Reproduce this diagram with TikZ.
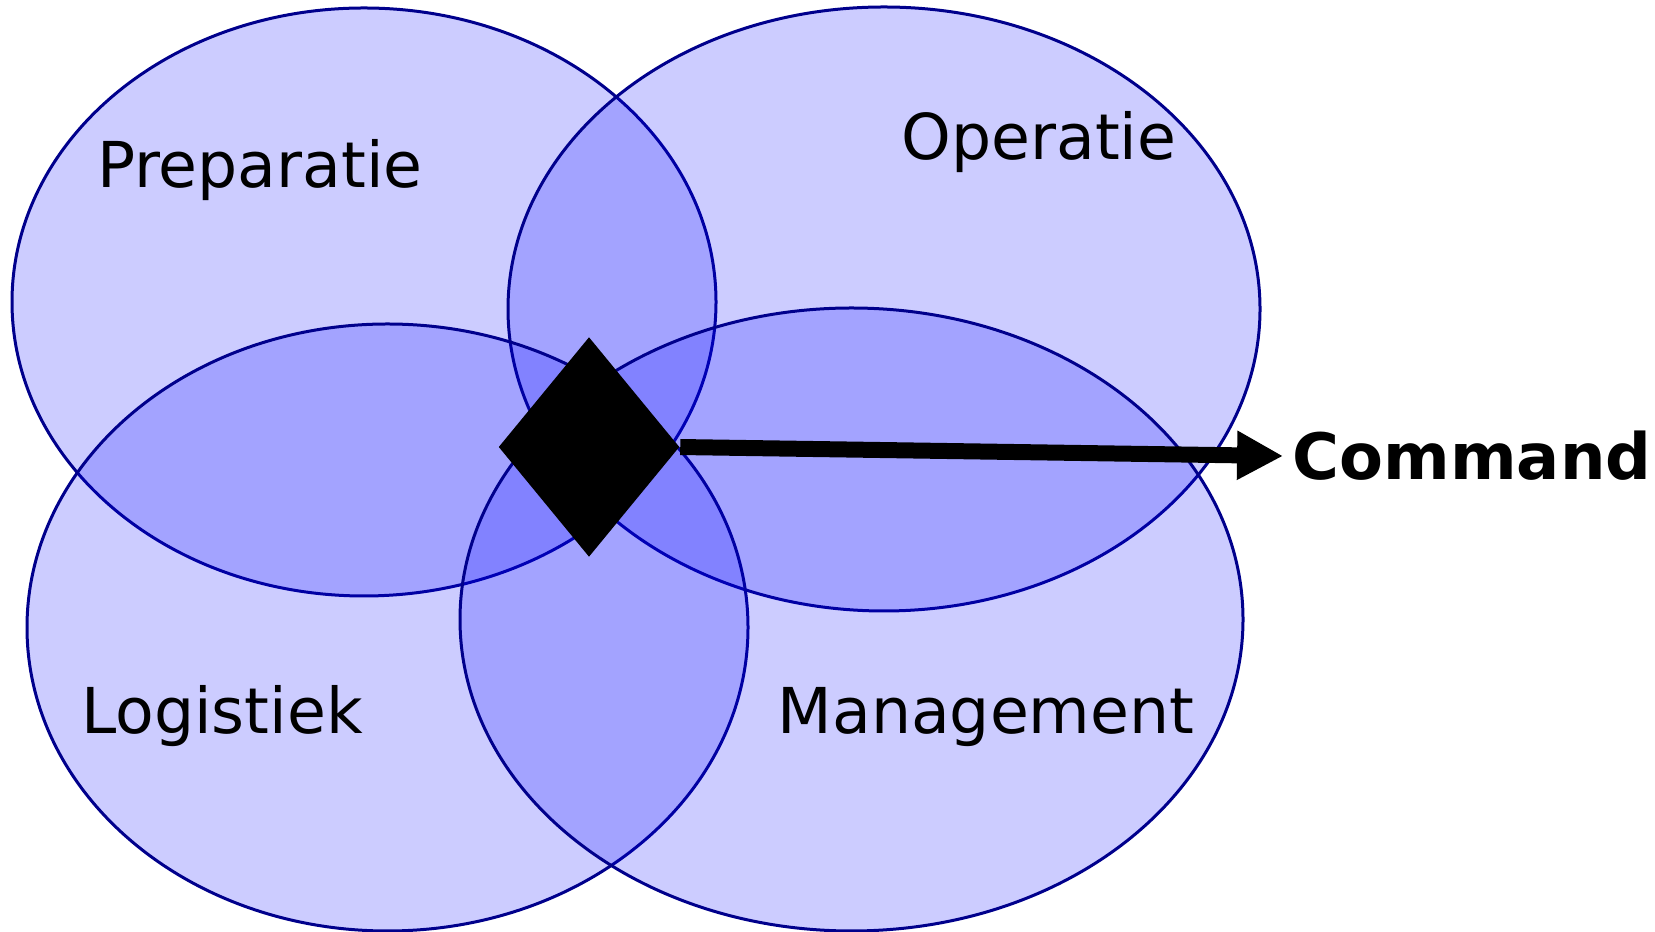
\documentclass[tikz,border=0pt]{standalone}
\usepackage{fontspec}
\setmainfont{DejaVu Sans}
\usetikzlibrary{shapes.geometric, arrows.meta}
\definecolor{rim}{RGB}{0,0,140}

\begin{document}
\begin{tikzpicture}[scale=0.1,
  every node/.append style={inner sep=0pt},
  venn/.style={draw=rim, line width=0.03cm, fill=blue, fill opacity=0.2},
  area/.style={font=\fontsize{18}{22}\selectfont, anchor=base},
  hubmark/.style={diamond, fill=black, minimum width=1.81cm, minimum height=2.2cm},
  cmdarrow/.style={line width=0.16cm, -{Triangle[length=0.46cm, width=0.46cm]}}]
\useasboundingbox (0,0) rectangle (165.5,-93.2);
\draw [venn] (36.4,-30.2) ellipse (35.2 and 29.4);
\draw [venn] (88.4,-30.9) ellipse (37.6 and 30.2);
\draw [venn] (38.75,-62.75) ellipse (36.05 and 30.35);
\draw [venn] (85.15,-61.95) ellipse (39.15 and 31.15);
\node [area] (prep) at (26.0,-18.8) {Preparatie};
\node [area] (oper) at (103.9,-16.0) {Operatie};
\node [area] (logi) at (22.2,-73.4) {Logistiek};
\node [area] (mgmt) at (98.6,-73.4) {Management};
\node [hubmark] (hub) at (58.9,-44.7) {};
\node [anchor=west, inner xsep=0.09cm, font=\fontsize{18.2}{22}\selectfont\bfseries] (cmd) at (128.3,-45.6) {Command};
\draw [cmdarrow] (hub.east) -- (cmd.west);
\end{tikzpicture}
\end{document}
